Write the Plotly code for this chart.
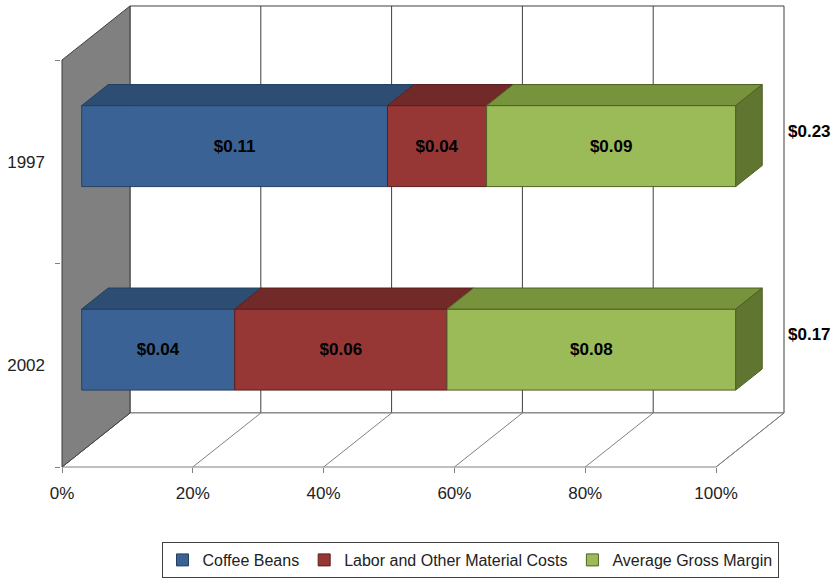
import plotly.graph_objects as go

# ---- data ----
years = ["2002", "1997"]            # bottom to top
series_names = ["Coffee Beans", "Labor and Other Material Costs", "Average Gross Margin"]
coffee_beans = [0.040, 0.108]
labor_costs = [0.0555, 0.035]
gross_margin = [0.0755, 0.088]
x_ticks = [0, 20, 40, 60, 80, 100]
x_tick_labels = ["0%", "20%", "40%", "60%", "80%", "100%"]

front_colors = ["#3B6295", "#963735", "#9BBB59"]
top_colors = ["#2D4D73", "#722A29", "#77933C"]
side_color = "#5F7530"
edge_colors = ["#24405F", "#5A1F1E", "#4F6128"]

# ---- pseudo-3D geometry (oblique projection in data units) ----
PX = 6.54      # px per percent
PY = 203.5     # px per category band
DX = 68 / PX   # depth offset in x data units
DY = 54 / PY   # depth offset in y data units
Z0, Z1 = 0.29, 0.68   # bar depth range
H = 0.199             # half bar height
WALL_H = 2.0
FONT = "Liberation Sans, Arial, sans-serif"

def P(x, y, z):
    return x + z * DX, y + z * DY

def path(pts):
    return "M " + " L ".join(f"{px:.4f},{py:.4f}" for px, py in pts) + " Z"

series = [coffee_beans, labor_costs, gross_margin]
totals = [sum(s[i] for s in series) for i in range(len(years))]
centers = [i + 0.5 for i in range(len(years))]

fig = go.Figure()
shapes = []
wall_line = dict(color="#3F3F3F", width=1)
grid_line = dict(color="#3F3F3F", width=1)
floor_line = dict(color="#808080", width=1)

# back wall
shapes.append(dict(type="path", layer="below", xref="x", yref="y",
                   path=path([P(0, 0, 1), P(100, 0, 1), P(100, WALL_H, 1), P(0, WALL_H, 1)]),
                   fillcolor="white", line=wall_line))
for t in x_ticks[1:-1]:
    (xa, ya), (xb, yb) = P(t, 0, 1), P(t, WALL_H, 1)
    shapes.append(dict(type="line", layer="below", xref="x", yref="y",
                       x0=xa, y0=ya, x1=xb, y1=yb, line=grid_line))
# floor
shapes.append(dict(type="path", layer="below", xref="x", yref="y",
                   path=path([P(0, 0, 0), P(100, 0, 0), P(100, 0, 1), P(0, 0, 1)]),
                   fillcolor="white", line=floor_line))
for t in x_ticks:
    (xa, ya), (xb, yb) = P(t, 0, 0), P(t, 0, 1)
    shapes.append(dict(type="line", layer="below", xref="x", yref="y",
                       x0=xa, y0=ya, x1=xb, y1=yb, line=floor_line))
# left wall
shapes.append(dict(type="path", layer="below", xref="x", yref="y",
                   path=path([P(0, 0, 0), P(0, WALL_H, 0), P(0, WALL_H, 1), P(0, 0, 1)]),
                   fillcolor="#808080", line=dict(color="#3F3F3F", width=1)))

# front faces as bars
starts = [[0.0] * len(years) for _ in series]
pcts = [[0.0] * len(years) for _ in series]
for i in range(len(years)):
    acc = 0.0
    for k, s in enumerate(series):
        p = s[i] / totals[i] * 100
        starts[k][i] = acc
        pcts[k][i] = p
        acc += p

for k, s in enumerate(series):
    fig.add_trace(go.Bar(
        name=series_names[k], orientation="h",
        y=[c + Z0 * DY for c in centers],
        x=pcts[k],
        base=[st + Z0 * DX for st in starts[k]],
        width=2 * H,
        marker=dict(color=front_colors[k], line=dict(color=edge_colors[k], width=1)),
        text=[f"${v:.2f}" for v in s],
        textposition="inside", insidetextanchor="middle", textangle=0,
        constraintext="none",
        textfont=dict(family=FONT, size=17, color="black", weight="bold"),
        hoverinfo="skip",
    ))

# top faces and right side
for i, c in enumerate(centers):
    for k in range(len(series)):
        a = starts[k][i]
        b = a + pcts[k][i]
        pts = [P(a, c + H, Z0), P(b, c + H, Z0), P(b, c + H, Z1), P(a, c + H, Z1), P(a, c + H, Z0)]
        fig.add_trace(go.Scatter(x=[p[0] for p in pts], y=[p[1] for p in pts],
                                 mode="lines", fill="toself", fillcolor=top_colors[k],
                                 line=dict(color=edge_colors[k], width=1),
                                 showlegend=False, hoverinfo="skip"))
    pts = [P(100, c - H, Z0), P(100, c + H, Z0), P(100, c + H, Z1), P(100, c - H, Z1), P(100, c - H, Z0)]
    fig.add_trace(go.Scatter(x=[p[0] for p in pts], y=[p[1] for p in pts],
                             mode="lines", fill="toself", fillcolor=side_color,
                             line=dict(color=edge_colors[2], width=1),
                             showlegend=False, hoverinfo="skip"))

# totals
annotations = []
for i, c in enumerate(centers):
    tx, ty = P(100, c + 0.15 - DY, 1)
    annotations.append(dict(x=tx + 0.3, y=ty, xref="x", yref="y", xanchor="left", yanchor="middle",
                            text=f"<b>${totals[i]:.2f}</b>", showarrow=False,
                            font=dict(family=FONT, size=17, color="black")))

W, Hpx = 834, 580
fig.update_layout(
    width=W, height=Hpx, margin=dict(l=0, r=0, t=0, b=0),
    paper_bgcolor="white", plot_bgcolor="white",
    barmode="overlay", shapes=shapes, annotations=annotations,
    font=dict(family=FONT, size=17, color="#222222"),
    xaxis=dict(range=[-62 / PX, (W - 62) / PX], tickvals=x_ticks, ticktext=x_tick_labels,
               ticks="outside", ticklen=5, tickcolor="#808080", showgrid=False, zeroline=False,
               showline=False, anchor="free", position=(Hpx - 467) / Hpx,
               ticklabelstandoff=6, fixedrange=True),
    yaxis=dict(range=[(467 - Hpx) / PY, 467 / PY], tickvals=centers, ticktext=years,
               ticks="", showgrid=False, zeroline=False, showline=False,
               anchor="free", position=60 / W, ticklabelstandoff=15,
               minor=dict(tickvals=[0, 1, 2], ticks="outside", ticklen=5, tickcolor="#808080"),
               fixedrange=True),
    legend=dict(orientation="h", x=470 / W, xanchor="center", y=2 / Hpx, yanchor="bottom",
                bordercolor="#404040", borderwidth=1, bgcolor="white",
                font=dict(size=16, color="#222222"), itemwidth=30, traceorder="normal",
                itemclick=False, itemdoubleclick=False),
    showlegend=True,
)

fig.write_html("out.html")
